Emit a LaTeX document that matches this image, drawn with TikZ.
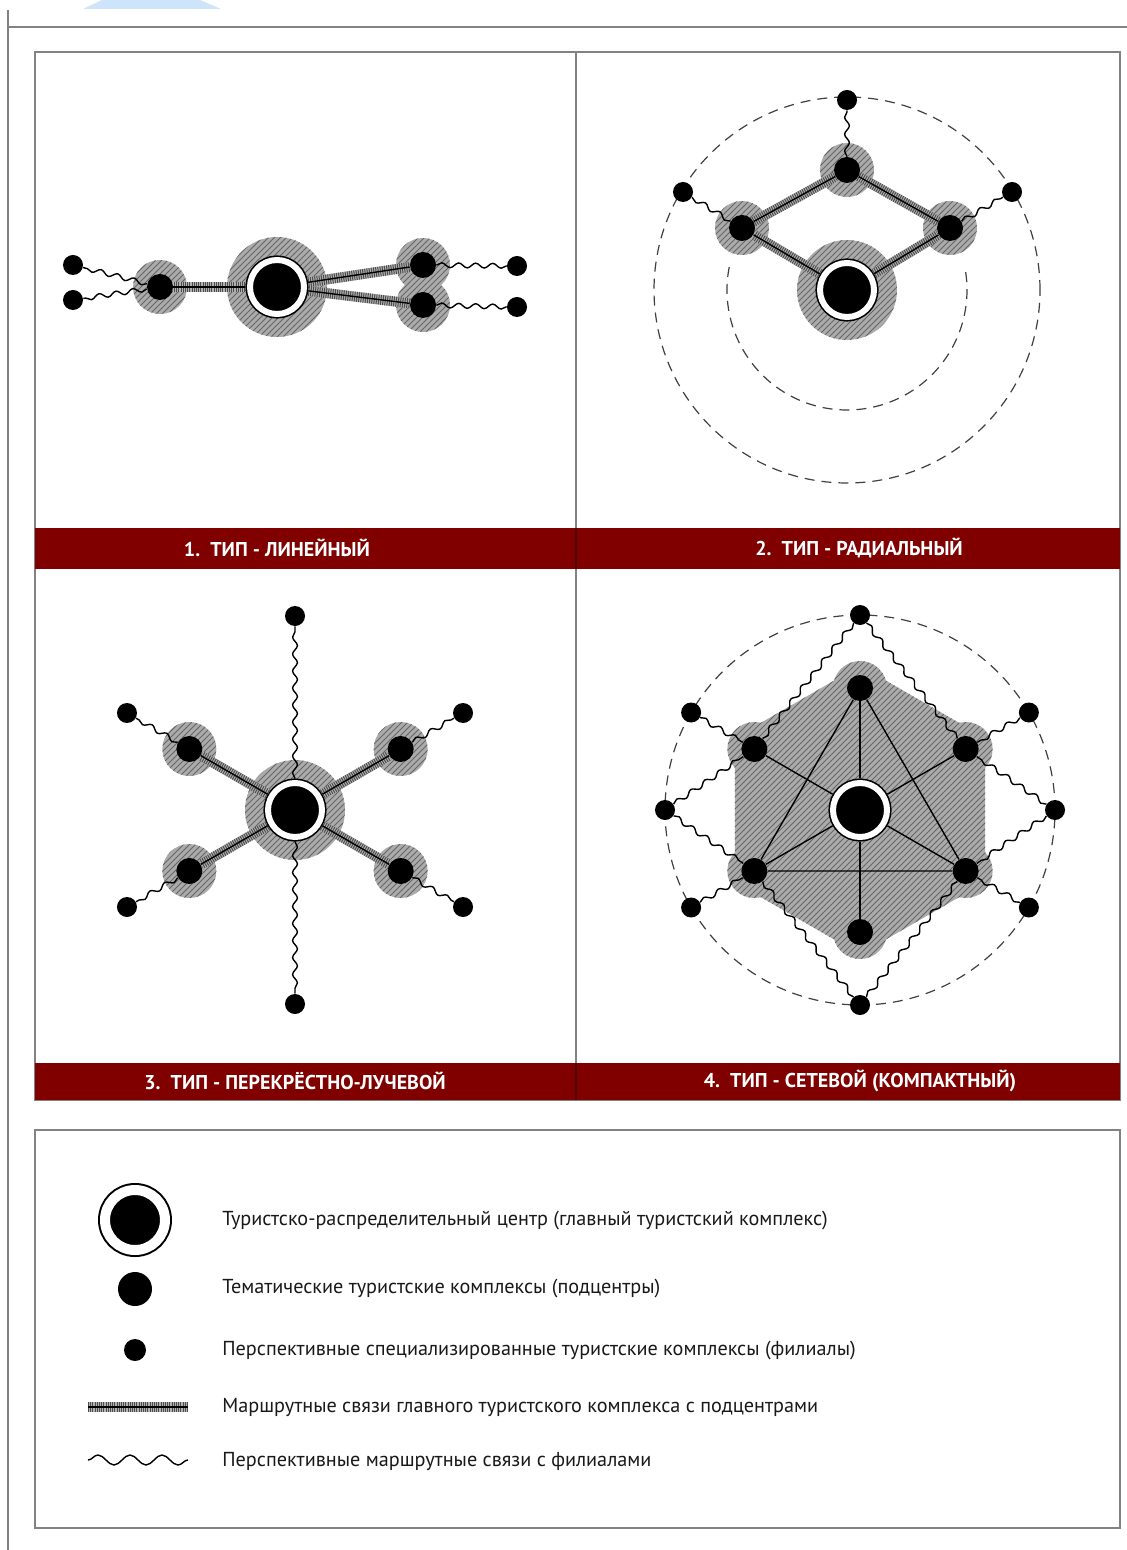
\documentclass[tikz,border=0pt]{standalone}
\usepackage{fontspec}
\setmainfont{PT Sans}
\usetikzlibrary{calc,patterns,decorations.pathmorphing}
\definecolor{bandred}{RGB}{128,0,0}
\definecolor{framegray}{RGB}{130,130,130}
\definecolor{scrapblue}{RGB}{205,228,250}
\tikzset{
  frameline/.style={draw=framegray, line width=1pt},
  halofill/.style={fill=black!33, postaction={pattern=north east lines, pattern color=black!60}},
  halo/.style={halofill, circle, inner sep=0pt},
  bighalo/.style={halo, minimum size=50pt},
  subhalo/.style={halo, minimum size=27pt},
  bignode/.style={circle, inner sep=0pt, outer sep=2.3pt, minimum size=27pt, fill=black,
    draw=black, line width=0.8pt, double=white, double distance=3pt},
  legbig/.style={bignode, minimum size=30pt, outer sep=3.5pt, line width=1pt, double distance=5pt},
  subnode/.style={circle, inner sep=0pt, minimum size=13pt, fill=black},
  smallnode/.style={circle, inner sep=0pt, minimum size=10pt, fill=black},
  mainlink/.style={draw=black!70, line width=5pt, dash pattern=on 0.5pt off 0.6pt,
    preaction={draw=black!30, line width=5pt, solid},
    postaction={draw=black, line width=0.7pt, solid}},
  branchlink/.style={draw=black, line width=0.7pt, decorate,
    decoration={snake, amplitude=1.2pt, segment length=8.5pt}},
  netlink/.style={draw=black, line width=0.7pt},
  dashline/.style={draw=black!75, line width=0.6pt, dash pattern=on 5pt off 3.5pt},
  bandtext/.style={text=white, font=\bfseries\fontsize{10}{12}\selectfont},
  legtext/.style={anchor=west, text=black!90, inner sep=0pt, font=\fontsize{10.1}{12}\selectfont}
}
\begin{document}
\begin{tikzpicture}[x=0.5pt, y=-0.5pt]
\useasboundingbox (0,0) rectangle (1127,1550);
\fill[white] (0,0) rectangle (1127,1550);
\fill[scrapblue] (102,0) -- (200,0) -- (221,9) -- (83,9) -- cycle;
% frames and red bands
\draw[frameline] (8,10) -- (8,1550);
\draw[frameline] (8,27) -- (1127,27);
\draw[frameline] (35,52) rectangle (1120,1100);
\draw[frameline] (576,52) -- (576,1100);
\fill[bandred] (35,528) rectangle (1120,569);
\fill[bandred] (35,1063) rectangle (1120,1100);
\draw[bandred!60!black, line width=0.6pt] (576,528) -- (576,569) (576,1063) -- (576,1100);
\draw[frameline] (35,1130) rectangle (1120,1528);
\node[bandtext] (t1) at (277,548) {1.\ \ ТИП - ЛИНЕЙНЫЙ};
\node[bandtext] (t2) at (859,548) {2.\ \ ТИП - РАДИАЛЬНЫЙ};
\node[bandtext] (t3) at (295,1081) {3.\ \ ТИП - ПЕРЕКРЁСТНО-ЛУЧЕВОЙ};
\node[bandtext] (t4) at (860,1081) {4.\ \ ТИП - СЕТЕВОЙ (КОМПАКТНЫЙ)};

% 1. linear
\coordinate (o1) at (277,287);
\node[bighalo] (h1) at (o1) {};
\node[subhalo] (h1l) at (160,287) {};
\node[subhalo] (h1a) at (423,265) {};
\node[subhalo] (h1b) at (423,305) {};
\node[bignode] (c1) at (o1) {};
\node[subnode] (s1l) at (h1l) {};
\node[subnode] (s1a) at (h1a) {};
\node[subnode] (s1b) at (h1b) {};
\node[smallnode] (b1a) at (73,265) {};
\node[smallnode] (b1b) at (73,300) {};
\node[smallnode] (b1c) at (517,266) {};
\node[smallnode] (b1d) at (517,307) {};
\draw[mainlink] (c1) -- (s1l);
\draw[mainlink] (c1) -- (s1a);
\draw[mainlink] (c1) -- (s1b);
\draw[branchlink] (s1l) -- (b1a);
\draw[branchlink] (s1l) -- (b1b);
\draw[branchlink] (s1a) -- (b1c);
\draw[branchlink] (s1b) -- (b1d);

% 2. radial
\coordinate (o2) at (847,290);
\draw[dashline] (o2) circle[radius=96.5pt];
\draw[dashline] (o2) ++(169:60pt) arc[start angle=169, end angle=371, radius=60pt];
\node[bighalo] (h2) at (o2) {};
\node[subhalo] (h2t) at (847,170) {};
\node[subhalo] (h2l) at (742,228) {};
\node[subhalo] (h2r) at (950,228) {};
\node[bignode] (c2) at (o2) {};
\foreach \n in {t,l,r}
  \node[subnode] (s2\n) at (h2\n) {};
\node[smallnode] (b2t) at (847,100) {};
\node[smallnode] (b2l) at (683,192) {};
\node[smallnode] (b2r) at (1012,192) {};
\draw[mainlink] (c2) -- (s2l);
\draw[mainlink] (c2) -- (s2r);
\draw[mainlink] (s2l) -- (s2t);
\draw[mainlink] (s2t) -- (s2r);
\foreach \n in {t,l,r}
  \draw[branchlink] (s2\n) -- (b2\n);

% 3. cross-radial
\coordinate (o3) at (295,810);
\node[bighalo] (h3) at (o3) {};
\foreach \a/\n in {30/a,150/b,210/c,330/d}
  \node[subhalo] (h3\n) at ($(o3)+(\a:61pt)$) {};
\node[bignode] (c3) at (o3) {};
\foreach \a/\n in {30/a,150/b,210/c,330/d}
  \node[subnode] (s3\n) at (h3\n) {};
\foreach \a/\n in {30/a,90/t,150/b,210/c,270/u,330/d}
  \node[smallnode] (b3\n) at ($(o3)+(\a:97pt)$) {};
\foreach \n in {a,b,c,d} {
  \draw[mainlink] (c3) -- (s3\n);
  \draw[branchlink] (s3\n) -- (b3\n);
}
\draw[branchlink] (c3) -- (b3t);
\draw[branchlink] (c3) -- (b3u);

% 4. network (compact)
\coordinate (o4) at (860,810);
\draw[dashline] (o4) circle[radius=97.5pt];
\fill[halofill, rounded corners=6pt] ($(o4)+(60:62.5pt)$)
  \foreach \a in {90,150,...,390} { -- ($(o4)+(\a:72.2pt)$) } -- cycle;
\foreach \a/\n in {90/a,150/b,210/c,270/d,330/e,30/f}
  \node[subhalo] (h4\n) at ($(o4)+(\a:61pt)$) {};
\node[bignode] (c4) at (o4) {};
\foreach \n in {a,b,c,d,e,f}
  \node[subnode] (s4\n) at (h4\n) {};
\foreach \a/\n in {0/r,30/f,90/a,150/b,180/l,210/c,270/d,330/e}
  \node[smallnode] (b4\n) at ($(o4)+(\a:97.5pt)$) {};
\foreach \n in {a,b,c,d,e,f}
  \draw[netlink] (c4) -- (s4\n);
\draw[netlink] (s4a) -- (s4c) -- (s4e) -- (s4a);
\foreach \p/\q in {a/b,a/f,l/b,l/c,d/c,d/e,r/e,r/f,f/f,b/b,c/c,e/e}
  \draw[branchlink] (b4\p) -- (s4\q);

% legend
\node[legbig] (lg1) at (135,1220) {};
\node[subnode, minimum size=17pt] (lg2) at (135,1289) {};
\node[smallnode, minimum size=11pt] (lg3) at (135,1350) {};
\coordinate (lg4a) at (88,1407);
\coordinate (lg4b) at (188,1407);
\coordinate (lg5a) at (88,1460);
\coordinate (lg5b) at (188,1460);
\draw[mainlink] (lg4a) -- (lg4b);
\draw[branchlink, decoration={snake, amplitude=2.5pt, segment length=16pt}] (lg5a) -- (lg5b);
\node[legtext] (x1) at (222,1221) {Туристско-распределительный центр (главный туристский комплекс)};
\node[legtext] (x2) at (222,1289) {Тематические туристские комплексы (подцентры)};
\node[legtext] (x3) at (222,1351) {Перспективные специализированные туристские комплексы (филиалы)};
\node[legtext] (x4) at (222,1407) {Маршрутные связи главного туристского комплекса с подцентрами};
\node[legtext] (x5) at (222,1461) {Перспективные маршрутные связи с филиалами};
\end{tikzpicture}
\end{document}
